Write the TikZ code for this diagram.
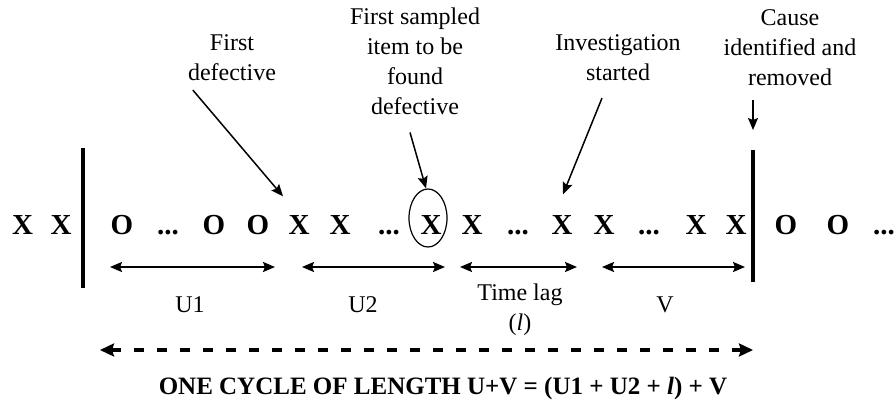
\documentclass[tikz,border=0pt]{standalone}
\usepackage{fontspec}
\setmainfont{Liberation Serif}
\usetikzlibrary{arrows.meta,calc,shapes.geometric}
\begin{document}
\begin{tikzpicture}[x=1pt,y=-1pt,
  item/.style={anchor=base,inner sep=0pt,font=\fontsize{29}{30}\selectfont\bfseries},
  lbl/.style={inner sep=0pt,align=center,font=\fontsize{24}{30}\selectfont},
  callout/.style={line width=1.5pt,-{Stealth[length=12pt,width=10pt,inset=2pt]}},
  span/.style={line width=2pt,{Stealth[length=12pt,width=10pt,inset=2pt]}-{Stealth[length=12pt,width=10pt,inset=2pt]}},
  cycle/.style={line width=3.5pt,dash pattern=on 10pt off 13pt,{Stealth[length=14pt,width=13pt,inset=2pt]}-{Stealth[length=14pt,width=13pt,inset=2pt]}},
  bar/.style={line width=4pt}]
\useasboundingbox (0,0) rectangle (894,403);
\fill[white] (0,0) rectangle (894,403);
% main row
\node[item] (xa) at (22.5,235) {X};
\node[item] (xb) at (61,235) {X};
\node[item] (o1) at (122,235) {O};
\node[item] (d1) at (168,235) {...};
\node[item] (o2) at (214,235) {O};
\node[item] (o3) at (258,235) {O};
\node[item] (x3) at (299,235) {X};
\node[item] (x4) at (340,235) {X};
\node[item] (d2) at (389,235) {...};
\node[item] (x5) at (431,235) {X};
\node[item] (x6) at (472,235) {X};
\node[item] (d3) at (518,235) {...};
\node[item] (x7) at (562,235) {X};
\node[item] (x8) at (604,235) {X};
\node[item] (d4) at (649,235) {...};
\node[item] (x9) at (696,235) {X};
\node[item] (x10) at (736,235) {X};
\node[item] (o4) at (786,235) {O};
\node[item] (o5) at (838,235) {O};
\node[item] (d5) at (884,235) {...};
\node[draw,ellipse,line width=1.2pt,minimum width=38pt,minimum height=58pt,inner sep=0pt] (circ) at (428,218) {};
% bars
\coordinate (ltop) at (83,148);
\coordinate (lbot) at (83,288);
\coordinate (rtop) at (753,150);
\coordinate (rbot) at (753,282);
\draw[bar] (ltop) -- (lbot);
\draw[bar] (rtop) -- (rbot);
% top labels
\node[lbl] (fd) at (232,57.3) {First\\defective};
\node[lbl] (fs) at (415,60.8) {First sampled\\item to be\\found\\defective};
\node[lbl] (inv) at (618,57.3) {Investigation\\started};
\node[lbl] (cause) at (790,47.3) {Cause\\identified and\\removed};
\draw[callout] ($(fd.south west)+(5,9.5)$) -- ($(x3.north)+(-16,-19.5)$);
\draw[callout] ($(fs.south)+(-5,18)$) -- ($(circ.north)+(-2,0)$);
\draw[callout] ($(inv.south)+(-16,17.5)$) -- ($(x7.north)+(1,-21.5)$);
\draw[callout] ($(cause.south)+(-37,14.5)$) -- ($(rtop)+(0,-20)$);
% span arrows
\coordinate (u1a) at (110,267); \coordinate (u1b) at (275,267);
\coordinate (u2a) at (302,267); \coordinate (u2b) at (445,267);
\coordinate (tla) at (460,267); \coordinate (tlb) at (577,267);
\coordinate (va) at (602,267); \coordinate (vb) at (745,267);
\draw[span] (u1a) -- (u1b);
\draw[span] (u2a) -- (u2b);
\draw[span] (tla) -- (tlb);
\draw[span] (va) -- (vb);
\node[lbl] (u1l) at (190,305) {U1};
\node[lbl] (u2l) at (363,305) {U2};
\node[lbl] (tl) at (520,310) {Time lag\\(\textit{l})};
\node[lbl] (vl) at (665,305) {V};
% cycle
\coordinate (cyca) at (100,350);
\coordinate (cycb) at (753,350);
\draw[cycle] (cyca) -- (cycb);
\node[inner sep=0pt,font=\fontsize{25}{30}\selectfont\bfseries] (cyc) at (443,388) {ONE CYCLE OF LENGTH U+V = (U1 + U2 + \textit{l}) + V};
\end{tikzpicture}
\end{document}
